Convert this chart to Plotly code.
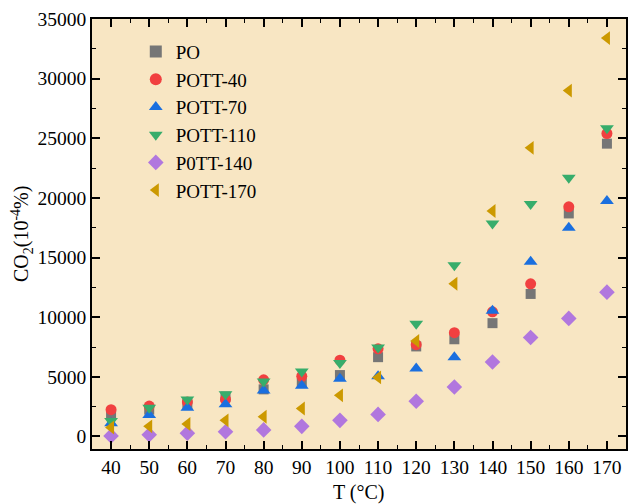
import plotly.graph_objects as go

temps = [40, 50, 60, 70, 80, 90, 100, 110, 120, 130, 140, 150, 160, 170]

po      = [1800, 2250, 2700, 3350, 3950, 4500, 5150, 6650, 7550, 8150, 9500, 11950, 18700, 24550]
pott40  = [2250, 2550, 2900, 3100, 4750, 5050, 6400, 7350, 7700, 8700, 10450, 12800, 19250, 25400]
pott70  = [1100, 1800, 2400, 2700, 3850, 4250, 4850, 5050, 5700, 6650, 10550, 14650, 17500, 19750]
pott110 = [1300, 2400, 3100, 3550, 4600, 5450, 6150, 7450, 9450, 14350, 17850, 19500, 21700, 25850]
pott140 = [50, 150, 280, 400, 550, 850, 1350, 1850, 2950, 4150, 6250, 8300, 9900, 12100]
pott170 = [750, 850, 1050, 1350, 1650, 2350, 3450, 4950, 8000, 12800, 18900, 24200, 29000, 33400]

names   = ["PO", "POTT-40", "POTT-70", "POTT-110", "P0TT-140", "POTT-170"]
series  = [po, pott40, pott70, pott110, pott140, pott170]
colors  = ["#767676", "#F14040", "#1A6FDF", "#37AD6B", "#B177DE", "#CC9900"]
symbols = ["square", "circle", "triangle-up", "triangle-down", "diamond", "triangle-left"]
sizes   = [10, 11, 12, 12, 12, 12]

x_ticks = list(range(40, 171, 10))
y_ticks = list(range(0, 35001, 5000))
x_labels = [str(v) for v in x_ticks]
y_labels = [str(v) for v in y_ticks]

FONT = "Liberation Serif, Times New Roman, serif"

fig = go.Figure()
for n, s, c, sym, sz in zip(names, series, colors, symbols, sizes):
    fig.add_trace(go.Scatter(
        x=temps, y=s, mode="markers", name=n,
        marker=dict(symbol=sym, size=sz, color=c, line=dict(width=0)),
    ))

axis_common = dict(
    showline=True, linecolor="black", linewidth=1.6, mirror="ticks",
    ticks="inside", ticklen=8, tickwidth=1.6, tickcolor="black",
    showgrid=False, zeroline=False,
    tickfont=dict(family=FONT, size=19.5, color="black"),
)

fig.update_xaxes(
    range=[35, 175], tickvals=x_ticks, ticktext=x_labels,
    minor=dict(dtick=5, ticks="inside", ticklen=4, tickwidth=1.4, tickcolor="black", showgrid=False),
    **axis_common,
)
fig.update_yaxes(
    range=[-1050, 35000], tickvals=y_ticks, ticktext=y_labels,
    minor=dict(dtick=2500, ticks="inside", ticklen=4, tickwidth=1.4, tickcolor="black", showgrid=False),
    **axis_common,
)

fig.add_annotation(
    text="CO<sub>2</sub>(10<sup>-4</sup>%)", xref="paper", yref="paper",
    x=-0.131, y=0.5, xanchor="center", yanchor="middle", textangle=-90,
    showarrow=False, font=dict(family=FONT, size=20, color="black"),
)
fig.add_annotation(
    text="T (°C)", xref="paper", yref="paper",
    x=0.5, y=-0.102, xanchor="center", yanchor="middle",
    showarrow=False, font=dict(family=FONT, size=20, color="black"),
)

fig.update_layout(
    width=629, height=504,
    margin=dict(l=92, r=1, t=19, b=55),
    paper_bgcolor="white", plot_bgcolor="#F8E6C3",
    showlegend=True,
    legend=dict(
        x=0.082, y=0.968, xanchor="left", yanchor="top",
        bgcolor="rgba(0,0,0,0)", borderwidth=0,
        font=dict(family=FONT, size=19, color="black"),
        tracegroupgap=0, itemsizing="constant",
    ),
    font=dict(family=FONT, color="black"),
)

fig.write_html(
    "out.html",
    config={"displayModeBar": False},
    post_script="document.body.style.margin='0';document.body.style.padding='0';document.body.style.overflow='hidden';",
)
